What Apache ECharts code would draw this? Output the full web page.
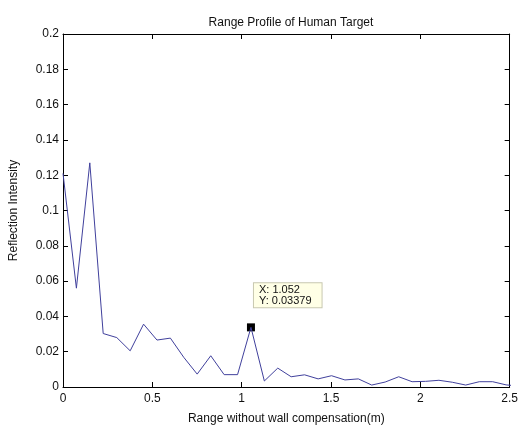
<!DOCTYPE html>
<html>
<head>
<meta charset="utf-8">
<script src="https://cdn.jsdelivr.net/npm/echarts@6/dist/echarts.min.js"></script>
<style>
  html, body { margin: 0; padding: 0; background: #fff; }
  #chart { width: 521px; height: 430px; }
</style>
</head>
<body>
<div id="chart"></div>
<script>
// Range samples (m) and reflection intensity
const rangeM = [0, 0.075, 0.150, 0.225, 0.301, 0.376, 0.451, 0.526, 0.601, 0.676,
  0.751, 0.827, 0.902, 0.977, 1.052, 1.127, 1.202, 1.277, 1.352, 1.428,
  1.503, 1.578, 1.653, 1.728, 1.803, 1.879, 1.954, 2.029, 2.104, 2.179,
  2.254, 2.330, 2.405, 2.480, 2.555]
const intensity = [0.121, 0.056, 0.127, 0.0303, 0.028, 0.0205, 0.0356, 0.0266, 0.0277, 0.0168,
  0.0073, 0.0177, 0.0070, 0.0070, 0.03379, 0.0034, 0.0107, 0.0058, 0.0069, 0.0046,
  0.0064, 0.0040, 0.0046, 0.0011, 0.0028, 0.0058, 0.0030, 0.0032, 0.0038, 0.0027,
  0.0011, 0.0030, 0.0030, 0.0012, 0.0005]
const cursorPoint = [1.052, 0.03379]

const chart = echarts.init(document.getElementById('chart'))

const font = 'Liberation Sans, Arial, sans-serif'
const axisCommon = {
  axisLine: { show: true, onZero: false, lineStyle: { color: '#000', width: 1 } },
  axisTick: { show: true, inside: true, length: 5, lineStyle: { color: '#000' } },
  splitLine: { show: false }
}

chart.setOption({
  backgroundColor: '#fff',
  animation: false,
  title: {
    text: 'Range Profile of Human Target',
    left: 286,
    textAlign: 'center',
    top: 12,
    textStyle: { fontFamily: font, fontSize: 12, fontWeight: 'normal', color: '#111' }
  },
  grid: { left: 61, right: 10, top: 34, bottom: 42 },
  xAxis: [{
    ...axisCommon,
    type: 'value',
    min: 0,
    max: 2.5,
    interval: 0.5,
    name: 'Range without wall compensation(m)',
    nameLocation: 'middle',
    nameGap: 26,
    nameTextStyle: { fontFamily: font, fontSize: 12, color: '#111' },
    axisLabel: { fontFamily: font, fontSize: 12, color: '#111', margin: 6 }
  }, {
    ...axisCommon,
    type: 'value',
    position: 'top',
    min: 0,
    max: 2.5,
    interval: 0.5,
    axisLabel: { show: false }
  }],
  yAxis: [{
    ...axisCommon,
    type: 'value',
    min: 0,
    max: 0.2,
    interval: 0.02,
    name: 'Reflection Intensity',
    nameLocation: 'middle',
    nameGap: 43,
    nameTextStyle: { fontFamily: font, fontSize: 12, color: '#111' },
    axisLabel: { fontFamily: font, fontSize: 12, color: '#111', margin: 4 }
  }, {
    ...axisCommon,
    type: 'value',
    position: 'right',
    min: 0,
    max: 0.2,
    interval: 0.02,
    axisLabel: { show: false }
  }],
  series: [{
    type: 'line',
    data: rangeM.map((x, i) => [x, intensity[i]]),
    symbol: 'none',
    clip: true,
    lineStyle: { color: '#40409c', width: 1 }
  }, {
    type: 'scatter',
    data: [cursorPoint],
    symbol: 'rect',
    symbolSize: 8,
    itemStyle: { color: '#000', opacity: 1 },
    label: {
      show: true,
      position: [7, -40],
      formatter: 'X: 1.052\nY: 0.03379',
      fontFamily: font,
      fontSize: 11,
      lineHeight: 11,
      color: '#111',
      backgroundColor: '#ffffe6',
      borderColor: '#c8c8b0',
      borderWidth: 1,
      padding: [1, 10, 1, 5]
    }
  }]
})
</script>
</body>
</html>
